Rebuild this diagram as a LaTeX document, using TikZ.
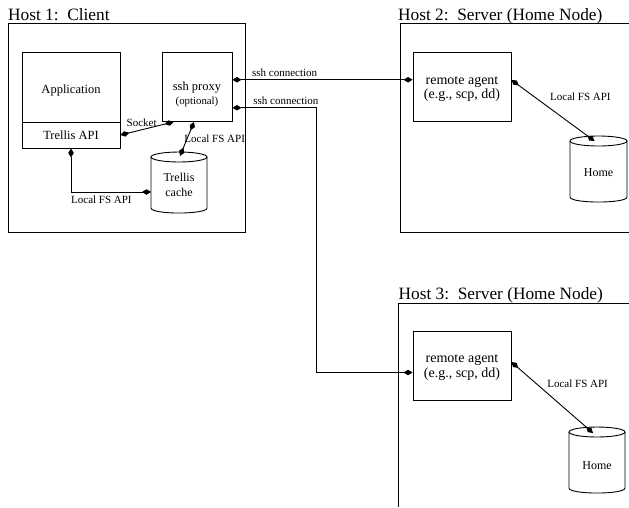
\documentclass[tikz,border=0pt]{standalone}
\usepackage{fontspec}
\setmainfont{Liberation Serif}
\usetikzlibrary{arrows.meta,calc}
\newcommand{\dropby}[2]{\raisebox{-#1}[\height][\depth]{#2}}
\begin{document}
\begin{tikzpicture}[x=1pt,y=-1pt,
  frame/.style={line width=0.9pt},
  box/.style={draw,line width=0.9pt,inner sep=0pt,align=center},
  conn/.style={line width=0.9pt,{Diamond[length=9pt,width=5.5pt]}-{Diamond[length=9pt,width=5.5pt]}},
  lbl/.style={font=\fontsize{11}{13}\selectfont,inner sep=1pt},
  hosttitle/.style={font=\fontsize{17.3}{20}\selectfont,anchor=base west,inner sep=0pt},
  maintext/.style={font=\fontsize{12.5}{15}\selectfont},
  agenttext/.style={font=\fontsize{14}{14.5}\selectfont,align=center,inner sep=0pt},
  cyltext/.style={font=\fontsize{12}{15}\selectfont,align=center,inner sep=0pt}
]
\useasboundingbox (0,0) rectangle (629,507);

% host titles
\node[hosttitle] (t1) at (8,20) {Host 1:\ \ Client};
\node[hosttitle] (t2) at (398,20) {Host 2:\ \ Server (Home Node)};
\node[hosttitle] (t3) at (398.5,299.5) {Host 3:\ \ Server (Home Node)};

% host frames
\node[box,minimum width=237,minimum height=209] (host1) at (126.5,127.5) {};
\draw[frame] (629,23) -- (400,23) -- (400,232) -- (629,232);
\draw[frame] (629,303) -- (398.5,303) -- (398.5,507);

% host 1 contents
\node[box,maintext,minimum width=98,minimum height=70] (app) at (71,87) {\dropby{3.5pt}{Application}};
\node[box,maintext,minimum width=98,minimum height=26] (api) at (71,135) {Trellis API};
\node[box,minimum width=70,minimum height=69.5] (proxy) at (197,86.75) {};
\node[maintext,align=center,inner sep=0pt] (proxytext) at (197,94.5)
  {ssh proxy\\[-0.5pt]{\fontsize{10.8}{12}\selectfont (optional)}};

% Trellis cache cylinder
\node[cyltext] (cache) at (179,184.5) {Trellis\\cache};
\draw[frame] ($(cache)+(-28,-27.5)$) -- ($(cache)+(-28,23.5)$)
  .. controls ($(cache)+(-28,30.2)$) and ($(cache)+(28,30.2)$) .. ($(cache)+(28,23.5)$)
  -- ($(cache)+(28,-27.5)$);
\draw[frame] ($(cache)+(0,-27.5)$) ellipse [x radius=28,y radius=5];

% host 2 contents
\node[box,minimum width=98,minimum height=69] (agent2) at (462,86.5) {};
\node[agenttext] (agent2text) at (462,89) {remote agent\\(e.g., scp, dd)};
\node[cyltext] (home2) at (598.5,173) {Home};
\draw[frame] ($(home2)+(-28.5,-32)$) -- ($(home2)+(-28.5,24)$)
  .. controls ($(home2)+(-28.5,30.7)$) and ($(home2)+(28.5,30.7)$) .. ($(home2)+(28.5,24)$)
  -- ($(home2)+(28.5,-32)$);
\draw[frame] ($(home2)+(0,-32)$) ellipse [x radius=28.5,y radius=5];

% host 3 contents
\node[box,minimum width=98,minimum height=69] (agent3) at (462,365.5) {};
\node[agenttext] (agent3text) at (462,367.5) {remote agent\\(e.g., scp, dd)};
\node[cyltext] (home3) at (597,466) {Home};
\draw[frame] ($(home3)+(-28,-34)$) -- ($(home3)+(-28,22)$)
  .. controls ($(home3)+(-28,28.7)$) and ($(home3)+(28,28.7)$) .. ($(home3)+(28,22)$)
  -- ($(home3)+(28,-34)$);
\draw[frame] ($(home3)+(0,-34)$) ellipse [x radius=28,y radius=5];

% connectors in host 1
\draw[conn] (api.east) -- node[lbl,pos=0.4,above=2pt]{Socket} ($(proxy.south west)+(12,0)$);
\draw[conn] ($(proxy.south)+(-3,0)$) -- node[lbl,pos=0.5,anchor=west,xshift=-4pt]{Local FS API} ($(cache)+(1,-28.5)$);
\draw[conn] (api.south) |- node[lbl,pos=0.69,below=2pt]{Local FS API} ($(cache)+(-28,7.5)$);

% ssh connections
\coordinate (s1) at ($(proxy.east)+(0,-7)$);
\coordinate (s2) at ($(proxy.east)+(0,21)$);
\coordinate (e3) at ($(agent3.west)+(0,7)$);
\coordinate (bend) at (316,240);
\draw[conn] (s1) -- node[lbl,pos=0.29,above=2pt]{ssh connection} (s1 -| agent2.west);
\draw[conn] (s2) -- node[lbl,pos=0.64,above=2pt]{ssh connection} (s2 -| bend) -- (bend |- e3) -- (e3);

% remote connectors
\draw[conn] ($(agent2.east)+(0,-6.5)$) -- node[lbl,pos=0.28,anchor=west,xshift=14pt]{Local FS API} ($(home2)+(-4,-32)$);
\draw[conn] ($(agent3.east)+(0,-3.5)$) -- node[lbl,pos=0.3,anchor=west,xshift=10pt]{Local FS API} ($(home3)+(-4,-33)$);
\end{tikzpicture}
\end{document}
